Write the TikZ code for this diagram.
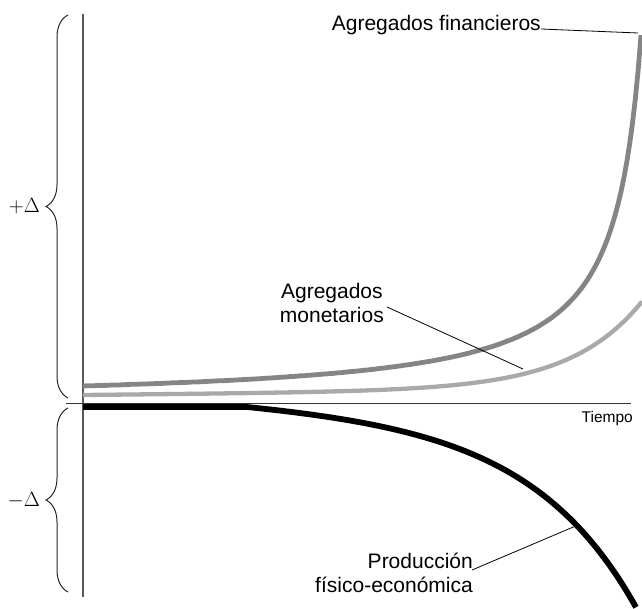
\documentclass[tikz,border=0pt]{standalone}
\usepackage{fontspec}
\setmainfont{Liberation Sans}
\usepackage{xcolor}
\usepackage{tikz}
\usetikzlibrary{calc}
\usetikzlibrary{decorations.pathreplacing}

\definecolor{fincolor}{HTML}{858585}
\definecolor{moncolor}{HTML}{A9A9AB}
\definecolor{axiscolor}{HTML}{5A5A5A}

\begin{document}
\begin{tikzpicture}[x=1pt,y=-1pt,
		label/.style={font=\fontsize{21}{24}\selectfont,inner sep=0pt},
		leader/.style={black,line width=0.8pt},
		curlybrace/.style={decorate,decoration={brace,amplitude=22pt},line width=1pt,black!85}]
		\useasboundingbox (0,0) rectangle (642,609);
		% axes
		\draw[axiscolor,line width=1.3pt] (83,14) -- (83,597);
		\draw[black!80,line width=0.9pt] (66,403) -- (631,403);
		\node[anchor=north east,inner sep=0pt,font=\fontsize{15.5}{17}\selectfont] (tiempo) at (633,411) {Tiempo};
		% braces
		\draw[curlybrace] (68,398) -- (68,15);
		\draw[curlybrace] (68,592) -- (68,408);
		\node[anchor=east,inner sep=0pt,font=\fontsize{20}{24}\selectfont] (plus) at (40,206) {$+\Delta$};
		\node[anchor=east,inner sep=0pt,font=\fontsize{20}{24}\selectfont] (minus) at (40,500) {$-\Delta$};
		% curves
		\draw[fincolor,line width=4.8pt] plot[domain=83:641,samples=200] (\x,{386-9935*(1/(668-\x)-1/585)});
		\draw[moncolor,line width=4.3pt] plot[domain=83:642,samples=150] (\x,{395-0.0098*(\x-83)-0.035*(exp(0.014*(\x-83))-1)});
		\draw[black,line width=5.8pt] (83,407) -- (247,407) -- plot[domain=247:636,samples=150] (\x,{407+0.0585*(\x-247)+4.51*(exp(0.0095*(\x-247))-1)});
		% labels
		\coordinate (finend) at (638,33);
		\coordinate (monend) at (523,369);
		\coordinate (prodend) at (578,525);
		\node[label,anchor=base east] (fin) at (541,31) {Agregados financieros};
		\node[label,anchor=east,align=center] (mon) at (384,303) {Agregados\\monetarios};
		\node[label,anchor=east,align=right] (prod) at (473,573) {Producción\\físico-económica};
		\draw[leader] ([yshift=2pt]fin.base east) -- (finend);
		\draw[leader] ([shift={(3,4)}]mon.east) -- (monend);
		\draw[leader] ([shift={(-1,-3)}]prod.east) -- (prodend);
\end{tikzpicture}
\end{document}
